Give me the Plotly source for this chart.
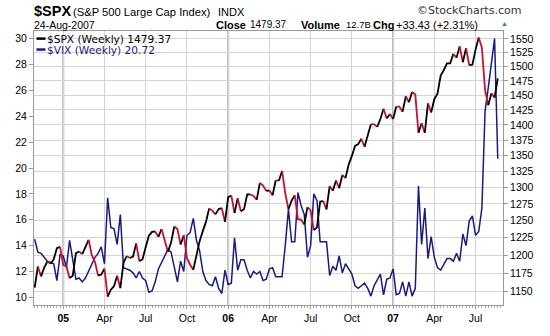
import pandas as pd
import plotly.graph_objects as go

# Weekly closes, Friday of each week
weeks = pd.date_range("2004-11-05", periods=147, freq="W-FRI")

spx_close = [
    1155.00, 1184.17, 1170.34, 1182.65, 1191.17, 1188.00, 1194.20, 1210.13, 1211.92,
    1186.19, 1184.52, 1167.87, 1171.36, 1203.03, 1205.30, 1201.59, 1211.37, 1222.12,
    1200.08, 1190.21, 1171.42, 1172.92, 1181.20, 1142.62, 1152.12, 1156.85, 1171.35,
    1154.05, 1189.28, 1198.78, 1196.02, 1198.11, 1216.96, 1191.57, 1194.44, 1211.86,
    1227.92, 1233.68, 1234.18, 1226.42, 1237.81, 1219.71, 1205.10, 1218.02, 1241.48,
    1237.91, 1215.29, 1228.81, 1195.90, 1186.57, 1179.59, 1198.41, 1220.14, 1234.72,
    1248.27, 1268.25, 1265.08, 1259.37, 1267.32, 1268.66, 1248.29, 1285.45, 1287.61,
    1261.49, 1283.72, 1264.03, 1266.99, 1289.38, 1289.43, 1287.23, 1281.42, 1307.25,
    1302.95, 1294.83, 1295.50, 1288.12, 1311.28, 1310.61, 1325.76, 1291.24, 1267.03,
    1280.16, 1288.22, 1252.30, 1251.54, 1244.50, 1270.20, 1265.48, 1236.20, 1240.29,
    1278.55, 1279.36, 1266.74, 1302.30, 1295.09, 1311.01, 1298.92, 1319.66, 1314.78,
    1335.85, 1349.59, 1365.62, 1368.60, 1377.34, 1364.30, 1380.90, 1401.20, 1400.95,
    1396.71, 1409.84, 1427.09, 1410.76, 1418.30, 1409.71, 1430.73, 1430.50, 1422.18,
    1448.39, 1438.06, 1455.54, 1451.19, 1387.17, 1402.84, 1386.95, 1436.11, 1420.86,
    1443.76, 1452.85, 1484.35, 1494.07, 1505.62, 1505.85, 1522.75, 1515.73, 1536.34,
    1507.67, 1532.91, 1502.56, 1503.35, 1530.44, 1552.50, 1534.10, 1458.95, 1433.06,
    1453.64, 1445.94, 1479.37,
]

vix_close = [
    14.5, 13.5, 13.4, 13.1, 12.8, 12.7, 12.6, 11.3, 13.3, 13.2, 12.3, 14.4, 12.9, 11.4,
    11.5, 11.2, 11.5, 12.0, 12.6, 13.1, 13.4, 13.9, 12.6, 17.7, 15.4, 15.3, 14.1, 16.4,
    12.3, 12.2, 12.1, 11.9, 11.5, 12.0, 11.5, 11.3, 10.4, 10.5, 11.2, 12.2, 12.7, 13.2,
    13.7, 13.5, 12.3, 11.2, 12.8, 12.0, 14.8, 15.0, 16.1, 14.4, 13.6, 12.0, 11.3, 11.0,
    10.9, 11.6, 10.7, 10.3, 12.1, 11.0, 11.1, 14.6, 12.1, 12.9, 12.9, 12.1, 11.5, 12.0,
    11.8, 12.0, 11.3, 11.4, 12.2, 12.3, 11.6, 11.6, 11.6, 14.0, 16.8, 14.3, 14.3, 18.1,
    17.1, 16.4, 13.1, 14.0, 18.0, 17.5, 14.3, 14.3, 14.3, 11.7, 12.4, 12.1, 13.2, 11.9,
    12.6, 12.2, 11.8, 10.9, 10.7, 10.9, 11.1, 10.7, 10.1, 10.9, 11.3, 11.8, 10.2, 11.4,
    11.5, 12.2, 10.2, 10.3, 11.2, 10.1, 11.2, 10.1, 10.7, 18.6, 14.1, 16.9, 13.0, 14.7,
    13.1, 12.3, 12.1, 12.6, 13.0, 13.0, 12.8, 13.4, 12.8, 14.9, 14.0, 15.9, 16.3, 14.8,
    15.1, 16.9, 24.4, 26.2, 28.1, 30.0, 20.72,
]

x_tick_dates = ["2005-01-07", "2005-04-08", "2005-07-08", "2005-10-07",
                "2006-01-06", "2006-04-07", "2006-07-07", "2006-10-06",
                "2007-01-05", "2007-04-06", "2007-07-06"]
x_tick_labels = ["05", "Apr", "Jul", "Oct", "06", "Apr", "Jul", "Oct", "07", "Apr", "Jul"]
year_labels = {"05", "06", "07"}

vix_ticks = list(range(10, 31, 2))
spx_ticks = list(range(1150, 1551, 25))

volume_text = "12.7B"

UP_COLOR = "#000000"
DOWN_COLOR = "#c8102e"
VIX_COLOR = "#1a1a80"
GRID = "#d4d4d4"
AXIS = "#999999"

# plot-area frame in pixels (for placing header text in paper units)
PL, PR, PT, PB = 33.5, 503.0, 31.0, 319.0
W, H = PR - PL, PB - PT


def px(x):
    return (x - PL) / W


def py(y):
    return (PB - y) / H


fig = go.Figure()

# VIX on the linear left axis
fig.add_trace(go.Scatter(
    x=weeks, y=vix_close, mode="lines", yaxis="y",
    line=dict(color=VIX_COLOR, width=1.5), hoverinfo="skip", showlegend=False,
))

# SPX on the log right axis, split into runs of rising (black) / falling (red) weeks
runs = []
for k in range(len(spx_close) - 1):
    up = spx_close[k + 1] >= spx_close[k]
    if runs and runs[-1][0] == up:
        runs[-1][1].append(k + 1)
    else:
        runs.append([up, [k, k + 1]])

for up, idx in runs:
    fig.add_trace(go.Scatter(
        x=[weeks[j] for j in idx], y=[spx_close[j] for j in idx],
        mode="lines", yaxis="y2",
        line=dict(color=UP_COLOR if up else DOWN_COLOR, width=1.8),
        hoverinfo="skip", showlegend=False,
    ))

tick_text = [f"<b>{t}</b>" if t in year_labels else t for t in x_tick_labels]

shapes = []
# darker year separators
for d, t in zip(x_tick_dates, x_tick_labels):
    if t in year_labels:
        shapes.append(dict(type="line", xref="x", yref="paper", x0=d, x1=d, y0=0, y1=1,
                           line=dict(color="#b4b4b4", width=2), layer="between"))
# legend backdrop
shapes.append(dict(type="rect", xref="paper", yref="paper",
                   x0=px(34), x1=px(192), y0=py(53), y1=py(31.5),
                   fillcolor="white", line=dict(width=0), layer="between"))
# legend swatches
shapes.append(dict(type="line", xref="paper", yref="paper", x0=px(36), x1=px(45),
                   y0=py(39), y1=py(39), line=dict(color=UP_COLOR, width=2.5)))
shapes.append(dict(type="line", xref="paper", yref="paper", x0=px(36), x1=px(45),
                   y0=py(50.5), y1=py(50.5), line=dict(color=VIX_COLOR, width=2.5)))

last_spx = spx_close[-1]
chg = spx_close[-1] - spx_close[-2]
chg_pct = chg / spx_close[-2] * 100
last_date = weeks[-1]

ARIAL = "Liberation Sans, Arial"


def note(x, y, text, size, color="black", family=ARIAL, xanchor="left"):
    return dict(xref="paper", yref="paper", x=px(x), y=py(y), text=text,
                showarrow=False, xanchor=xanchor, yanchor="middle", borderpad=0,
                font=dict(family=family, size=size, color=color))


annotations = [
    note(32, 10, "<b>$SPX</b>", 14.5),
    note(72, 11, "(S&P 500 Large Cap Index)", 11.2),
    note(217, 11, "INDX", 11),
    note(32, 24.5, last_date.strftime("%d-%b-%Y"), 10.5),
    note(215, 24.5, "<b>Close</b>", 11),
    note(249, 24.5, f"{last_spx:.2f}", 10),
    note(300, 24.5, "<b>Volume</b>", 11),
    note(345, 24.5, volume_text, 9.5),
    note(372, 24.5, "<b>Chg</b>", 11),
    note(395, 24.5, f"{chg:+.2f} ({chg_pct:+.2f}%)", 11),
    note(500, 23.5, "▲", 7, color="#1a9a1a"),
    note(416, 9, "©StockCharts.com", 11, color="#333333", family="DejaVu Sans"),
    note(46, 39, f"$SPX (Weekly) {last_spx:.2f}", 10.6, color=UP_COLOR, family="DejaVu Sans"),
    note(46, 51, f"$VIX (Weekly) {vix_close[-1]:.2f}", 10.6, color=VIX_COLOR, family="DejaVu Sans"),
]

fig.update_layout(
    width=550, height=336, autosize=False,
    margin=dict(l=PL, r=550 - PR, t=PT, b=336 - PB, pad=0),
    paper_bgcolor="white", plot_bgcolor="white",
    showlegend=False,
    xaxis=dict(
        type="date", range=["2004-11-03 11:00", "2007-09-04 14:00"],
        tickvals=x_tick_dates, ticktext=tick_text,
        showgrid=True, gridcolor=GRID, gridwidth=1,
        ticks="outside", ticklen=3, tickcolor=AXIS,
        showline=True, linecolor=AXIS, linewidth=1, mirror=True,
        zeroline=False, tickfont=dict(family=ARIAL, size=10.5, color="black"),
        minor=dict(ticks="outside", ticklen=2, tickcolor="#aaaaaa",
                   dtick=7 * 86400000, tick0="2004-11-05", showgrid=False),
    ),
    yaxis=dict(
        range=[9.412, 30.588], tickvals=vix_ticks,
        showgrid=False, zeroline=False,
        ticks="outside", ticklen=4, tickcolor=AXIS,
        showline=True, linecolor=AXIS, linewidth=1,
        tickfont=dict(family=ARIAL, size=10.5, color="black"),
    ),
    yaxis2=dict(
        overlaying="y", side="right", type="log",
        range=[3.05361, 3.19439], tickvals=spx_ticks,
        ticktext=[str(t) for t in spx_ticks],
        showgrid=True, gridcolor=GRID, gridwidth=1, zeroline=False,
        ticks="outside", ticklen=4, tickcolor=AXIS,
        showline=True, linecolor=AXIS, linewidth=1,
        tickfont=dict(family=ARIAL, size=10.5, color="black"),
    ),
    shapes=shapes,
    annotations=annotations,
)

fig.write_html("out.html")
